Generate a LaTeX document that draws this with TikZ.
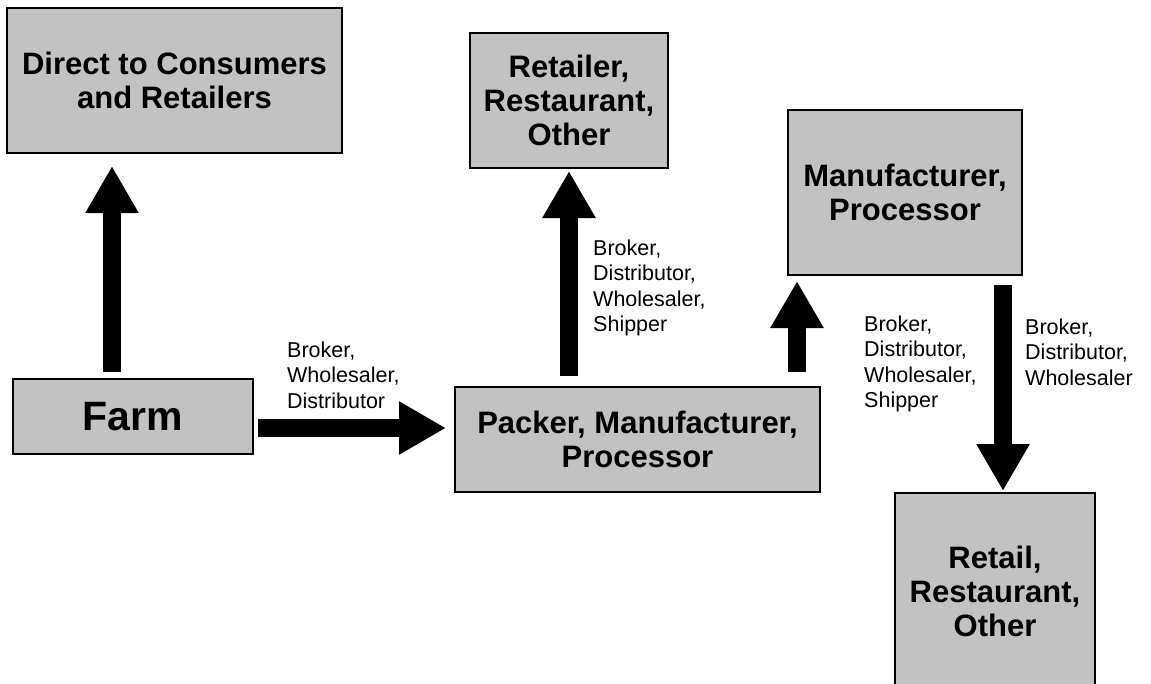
\documentclass[tikz,border=0pt]{standalone}
\usepackage{fontspec}
\setmainfont{Liberation Sans}
\usetikzlibrary{arrows.meta}

\tikzset{
  box/.style={draw, line width=2pt, fill=black!24, inner sep=0pt, align=center,
              font=\bfseries\fontsize{31}{34}\selectfont},
  via/.style={anchor=west, inner sep=0pt, align=left, font=\fontsize{21.5}{25.5}\selectfont},
  flow/.style={line width=18pt, -{Triangle[length=47pt,width=50pt]}},
}

\begin{document}
\begin{tikzpicture}[x=1pt,y=-1pt]
  \useasboundingbox (0,0) rectangle (1151,683);

  % outlets and middlemen
  \node[box, minimum width=335pt, minimum height=145pt] (direct)   at (174.5,80.5)  {Direct to Consumers\\and Retailers};
  \node[box, minimum width=198pt, minimum height=135pt] (retailer) at (569,100.5)   {Retailer,\\Restaurant,\\Other};
  \node[box, minimum width=234pt, minimum height=165pt] (manuf)    at (905,192.5)   {Manufacturer,\\Processor};
  \node[box, minimum width=240pt, minimum height=75pt,
        font=\bfseries\fontsize{41}{44}\selectfont]   (farm)     at (133,416.5)   {Farm};
  \node[box, minimum width=365pt, minimum height=105pt] (packer)   at (637.5,439.5) {Packer, Manufacturer,\\Processor};
  \node[box, minimum width=200pt, minimum height=197pt] (retail)   at (995,591.5)   {Retail,\\Restaurant,\\Other};

  % who carries the goods along each arrow
  \node[via] (viafarm)     at (287,375)  {Broker,\\Wholesaler,\\Distributor};
  \node[via] (viaretailer) at (593,288)  {Broker,\\Distributor,\\Wholesaler,\\Shipper};
  \node[via] (viaship)     at (864,364)  {Broker,\\Distributor,\\Wholesaler,\\Shipper};
  \node[via] (viawhole)    at (1025,352) {Broker,\\Distributor,\\Wholesaler};

  \coordinate (farmup)  at ([xshift=-21pt]farm.north);
  \coordinate (farmout) at ([yshift=-11.5pt]farm.east);
  \coordinate (packup)  at ([xshift=-24pt]packer.north east);
  \coordinate (mandown) at ([xshift=-20pt]manuf.south east);

  \path[flow]
    (farmup)                         edge[shorten <=6pt,  shorten >=12pt] (farmup |- direct.south)
    (farmout)                        edge[shorten <=4pt,  shorten >=8pt]  (farmout -| packer.west)
    (packer.north -| retailer.south) edge[shorten <=10pt, shorten >=2pt]  (retailer.south)
    (packup)                         edge[shorten <=14pt, shorten >=5pt]  (packup |- manuf.south)
    (mandown)                        edge[shorten <=9pt,  shorten >=1pt]  (mandown |- retail.north);
\end{tikzpicture}
\end{document}
